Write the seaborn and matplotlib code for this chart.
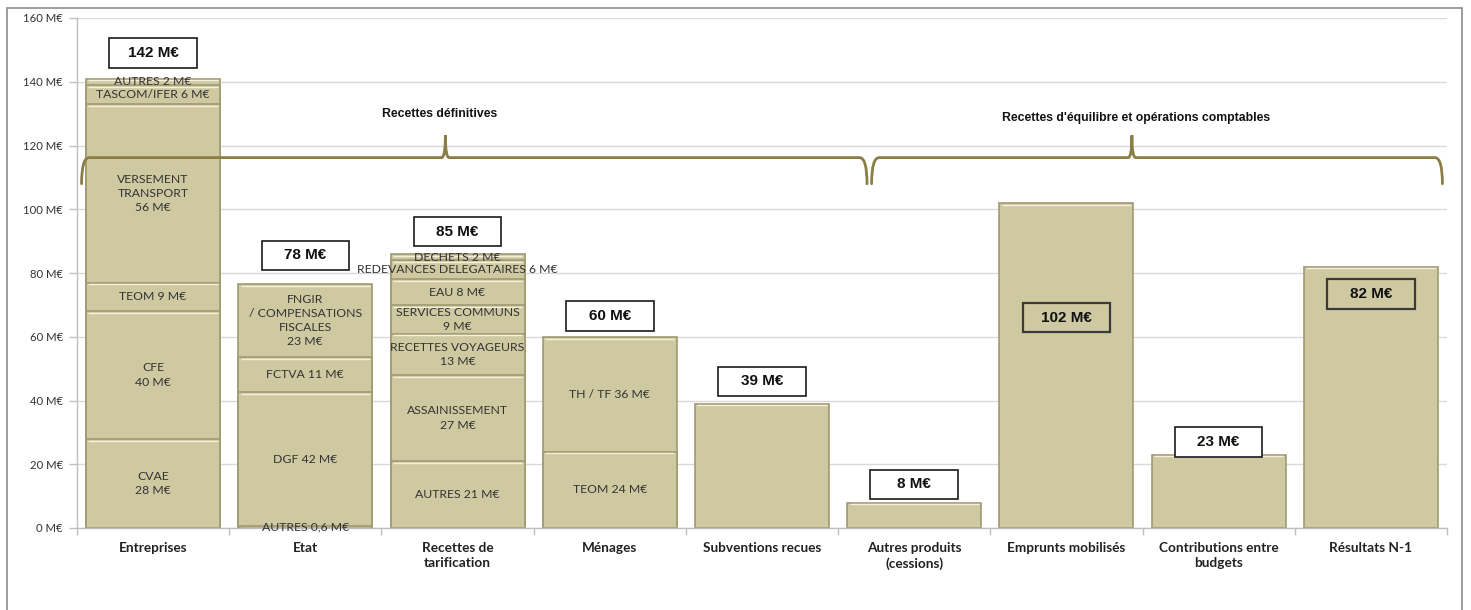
import matplotlib
matplotlib.use("Agg")
import matplotlib.pyplot as plt
from matplotlib.patches import Rectangle, PathPatch
from matplotlib.path import Path
from matplotlib.ticker import FixedLocator, NullFormatter
import numpy as np
import pandas as pd
import seaborn as sns

# ---- data -------------------------------------------------------------
categories = [
    "Entreprises", "Etat", "Recettes de\ntarification", "Ménages",
    "Subventions recues", "Autres produits\n(cessions)", "Emprunts mobilisés",
    "Contributions entre\nbudgets", "Résultats N-1",
]

entreprises_values = [28, 40, 9, 56, 6, 2]
entreprises_labels = ["CVAE\n28 M€", "CFE\n40 M€", "TEOM 9 M€",
                      "VERSEMENT\nTRANSPORT\n56 M€", "TASCOM/IFER 6 M€", "AUTRES 2 M€"]

etat_values = [0.6, 42, 11, 23]
etat_labels = ["AUTRES 0,6 M€", "DGF 42 M€", "FCTVA 11 M€",
               "FNGIR\n/ COMPENSATIONS\nFISCALES\n23 M€"]

tarification_values = [21, 27, 13, 9, 8, 6, 2]
tarification_labels = ["AUTRES 21 M€", "ASSAINISSEMENT\n27 M€",
                       "RECETTES VOYAGEURS\n13 M€", "SERVICES COMMUNS\n9 M€",
                       "EAU 8 M€", "REDEVANCES DELEGATAIRES 6 M€", "DECHETS 2 M€"]

menages_values = [24, 36]
menages_labels = ["TEOM 24 M€", "TH / TF 36 M€"]

subventions_values = [39]
cessions_values = [8]
emprunts_values = [102]
contributions_values = [23]
resultats_values = [82]

totals = [142, 78, 85, 60, 39, 8, 102, 23, 82]
total_labels = [f"{t} M€" for t in totals]

group_titles = ["Recettes définitives", "Recettes d'équilibre et opérations comptables"]
y_ticks = [0, 20, 40, 60, 80, 100, 120, 140, 160]

# ---- long table of stacked segments ------------------------------------
stacks = [
    (entreprises_values, entreprises_labels),
    (etat_values, etat_labels),
    (tarification_values, tarification_labels),
    (menages_values, menages_labels),
    (subventions_values, [""]),
    (cessions_values, [""]),
    (emprunts_values, [""]),
    (contributions_values, [""]),
    (resultats_values, [""]),
]
rows = []
for cat, (vals, labs) in zip(categories, stacks):
    bottom = 0.0
    for layer, (v, lab) in enumerate(zip(vals, labs)):
        rows.append(dict(category=cat, layer=layer, bottom=bottom,
                         top=bottom + v, value=v, label=lab))
        bottom += v
df = pd.DataFrame(rows)

# ---- style ---------------------------------------------------------------
sns.set_theme(style="white")
plt.rcParams["font.family"] = ["Lato", "DejaVu Sans"]

BAR = "#cfc9a1"
EDGE = "#a09a72"
BRACE = "#8a7d45"
TEXT = "#333333"

fig = plt.figure(figsize=(14.71, 6.10), dpi=100)
ax = fig.add_axes([77 / 1471, 1 - 528 / 610, (1447 - 77) / 1471, 510 / 610])

# stacked bars: cumulative tops drawn from the highest layer downwards
for layer in sorted(df["layer"].unique(), reverse=True):
    sub = df[df["layer"] == layer]
    sns.barplot(data=sub, x="category", y="top", order=categories,
                color=BAR, saturation=1, edgecolor=EDGE, linewidth=1.2,
                width=0.88, errorbar=None, ax=ax, zorder=2)

pos = {c: i for i, c in enumerate(categories)}

# bevel highlight just under each segment top
for _, r in df.iterrows():
    x = pos[r["category"]]
    ax.plot([x - 0.425, x + 0.425], [r["top"] - 0.55, r["top"] - 0.55],
            color="#f4f0dc", lw=1.0, zorder=3, solid_capstyle="butt")

# segment labels
for _, r in df.iterrows():
    if not r["label"]:
        continue
    x = pos[r["category"]]
    ax.text(x, (r["bottom"] + r["top"]) / 2, r["label"], ha="center", va="center",
            fontsize=8.8, color=TEXT, linespacing=1.35, zorder=5, clip_on=False)

# total boxes
box_y = [149, 85.5, 93, 66.5, 46, 13.7, 66, 27, 73.5]
inside = {"Emprunts mobilisés", "Résultats N-1"}
bw, bh = 0.575, 9.3
for cat, lab, yc in zip(categories, total_labels, box_y):
    x = pos[cat]
    if cat in inside:
        ax.add_patch(Rectangle((x - bw / 2, yc - bh / 2), bw, bh, fill=False,
                               ec="#3a3a3a", lw=1.6, zorder=6))
    else:
        ax.add_patch(Rectangle((x - bw / 2, yc - bh / 2), bw, bh, fc="white",
                               ec="#1a1a1a", lw=1.2, zorder=6))
    ax.text(x, yc, lab, ha="center", va="center", fontsize=11, fontweight="bold",
            family=["Liberation Sans", "DejaVu Sans"], color="#111111", zorder=7)


# curly braces grouping the categories
def brace(x0, xm, x1, y_base, y_line, y_peak, rx=0.05, ry=2.4, rm=0.025):
    verts = [
        (x0, y_base), (x0, y_line), (x0 + rx, y_line),
        (xm - rm, y_line), (xm, y_line), (xm, y_peak),
        (xm, y_line), (xm + rm, y_line),
        (x1 - rx, y_line), (x1, y_line), (x1, y_base),
    ]
    codes = [Path.MOVETO, Path.CURVE3, Path.CURVE3,
             Path.LINETO, Path.CURVE3, Path.CURVE3,
             Path.CURVE3, Path.CURVE3,
             Path.LINETO, Path.CURVE3, Path.CURVE3]
    ax.add_patch(PathPatch(Path(verts, codes), fill=False, ec=BRACE, lw=2.0,
                           zorder=8, clip_on=False, capstyle="round"))


brace(-0.47, 1.92, 4.69, 108, 116.2, 123.2)
brace(4.72, 6.43, 8.47, 108, 116.2, 123.2)
ax.text(1.88, 129.8, group_titles[0], ha="center", va="center", fontsize=8.8,
        fontweight="bold", family=["Liberation Sans", "DejaVu Sans"], color="#111111",
        zorder=8)
ax.text(6.46, 128.5, group_titles[1], ha="center", va="center", fontsize=8.8,
        fontweight="bold", family=["Liberation Sans", "DejaVu Sans"], color="#111111",
        zorder=8)

# ---- axes ---------------------------------------------------------------
ax.set_xlim(-0.5, len(categories) - 0.5)
ax.set_ylim(0, 160)
ax.set_yticks(y_ticks)
ax.set_yticklabels([f"{v} M€" for v in y_ticks], fontsize=8.2, color=TEXT)
ax.set_xticks(range(len(categories)))
ax.set_xticklabels(categories, fontsize=9.8, fontweight="bold", color="#222222",
                   linespacing=1.3)
ax.set_xlabel("")
ax.set_ylabel("")
ax.tick_params(axis="x", which="major", length=0, pad=10)
ax.xaxis.set_minor_locator(FixedLocator(np.arange(-0.5, len(categories), 1.0)))
ax.xaxis.set_minor_formatter(NullFormatter())
ax.tick_params(axis="x", which="minor", length=5, width=1, color="#bfbfbf",
               direction="out", bottom=True)
ax.tick_params(axis="y", which="major", length=6, width=1, color="#bfbfbf",
               direction="out", left=True, pad=4)

ax.yaxis.grid(True, color="#d9d9d9", lw=1)
ax.set_axisbelow(True)
for side in ("top", "right"):
    ax.spines[side].set_visible(False)
for side in ("left", "bottom"):
    ax.spines[side].set_color("#bfbfbf")
    ax.spines[side].set_linewidth(1)

# outer chart frame
fig.patches.append(Rectangle((7 / 1471, -0.02), (1462 - 7) / 1471, 1.02 - 8 / 610,
                             transform=fig.transFigure, fill=False,
                             ec="#8c8c8c", lw=1.2))

fig.savefig("out.png", dpi=100, facecolor="white")
